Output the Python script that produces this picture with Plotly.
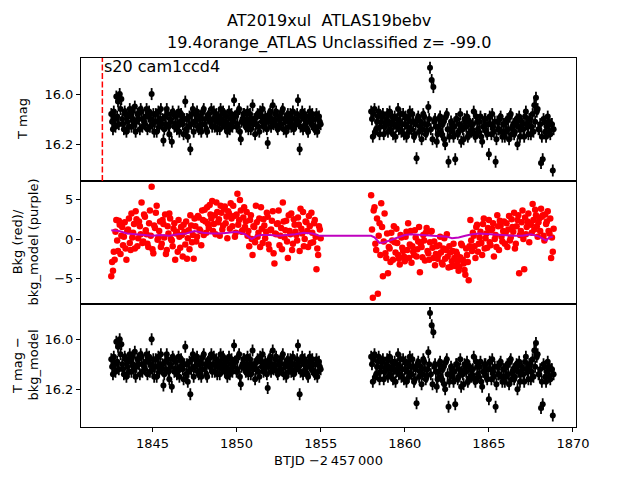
import plotly.graph_objects as go
from plotly.subplots import make_subplots

# ---------------- data ----------------
CADENCE = 0.1
SEG1_START = 1842.55
SEG2_START = 1858.0
HALF_STEP = 0.05

MAG_SEG1 = [
    16.08, 16.14, 16.10, 16.01, 16.03, 16.00, 16.02, 16.12, 16.07, 16.15,
    16.09, 16.06, 16.13, 16.10, 16.05, 16.11, 16.08, 16.14, 16.07, 16.10,
    16.12, 16.06, 16.09, 16.13, 16.00, 16.08, 16.11, 16.15, 16.07, 16.10,
    16.12, 16.185, 16.09, 16.06, 16.13, 16.10, 16.19, 16.08, 16.12, 16.14,
    16.07, 16.11, 16.09, 16.16, 16.03, 16.10, 16.13, 16.22, 16.08, 16.15,
    16.11, 16.07, 16.14, 16.09, 16.12, 16.06, 16.10, 16.15, 16.08, 16.11,
    16.13, 16.07, 16.10, 16.14, 16.09, 16.06, 16.12, 16.08, 16.11, 16.15,
    16.07, 16.10, 16.13, 16.025, 16.09, 16.12, 16.06, 16.18, 16.10, 16.08,
    16.13, 16.07, 16.11, 16.14, 16.045, 16.10, 16.12, 16.08, 16.15, 16.09,
    16.06, 16.12, 16.10, 16.195, 16.08, 16.13, 16.045, 16.11, 16.07, 16.14,
    16.09, 16.12, 16.06, 16.10, 16.15, 16.08, 16.11, 16.13, 16.07, 16.10,
    16.12, 16.025, 16.22, 16.09, 16.14, 16.08, 16.11, 16.15, 16.07, 16.12,
    16.10, 16.14, 16.08, 16.13, 16.11,
]
MAG_SEG1_B = [
    16.11, 16.07, 16.13, 16.09, 16.12, 16.06, 16.10, 16.14, 16.08, 16.11,
    16.13, 16.09, 16.07, 16.12, 16.15, 16.08, 16.10, 16.06, 16.13, 16.11,
    16.09, 16.14, 16.07, 16.10, 16.12, 16.15, 16.08, 16.11, 16.13, 16.06,
    16.10, 16.14, 16.12, 16.08, 16.16, 16.11, 16.07, 16.13, 16.09, 16.12,
    16.15, 16.08, 16.12, 16.10, 16.14, 16.17, 16.09, 16.12, 16.06, 16.11,
    16.08, 16.13, 16.10, 16.15, 16.07, 16.12, 16.14, 16.09, 16.11, 16.06,
    16.10, 16.13, 16.08, 16.11, 16.14, 16.10, 16.07, 16.13, 16.09, 16.12,
    16.14, 16.08, 16.11, 16.09, 16.13, 16.07, 16.15, 16.11, 16.08, 16.12,
    16.10, 16.14, 16.08, 16.10, 16.12, 16.16, 16.09, 16.13, 16.07, 16.11,
    16.13, 16.09, 16.14, 16.11, 16.07, 16.10, 16.12, 16.08, 16.13, 16.10,
    16.12, 16.07, 16.14, 16.11, 16.09, 16.13, 16.08, 16.10, 16.14, 16.12,
    16.08, 16.11, 16.13, 16.07, 16.10, 16.12, 16.14, 16.09, 16.11, 16.08,
    16.13, 16.10, 16.15, 16.09, 16.12,
]

MAG_SEG2 = [
    16.07, 16.17, 16.06, 16.14, 16.09, 16.16, 16.11, 16.08, 16.13, 16.10,
    16.15, 16.07, 16.12, 16.16, 16.09, 16.13, 16.06, 16.11, 16.15, 16.08,
    16.12, 16.17, 16.10, 16.07, 16.14, 16.11, 16.16, 16.256, 16.09, 16.13,
    16.18, 16.08, 16.12, 16.15, 16.052, 15.895, 15.944, 15.972, 16.10, 16.19,
    16.13, 16.09, 16.16, 16.11, 16.20, 16.08, 16.27, 16.14, 16.12, 16.17,
    16.26, 16.10, 16.15, 16.08, 16.13, 16.18, 16.11, 16.09, 16.16, 16.12,
    16.14, 16.07, 16.17, 16.11, 16.15, 16.09, 16.19, 16.13, 16.10, 16.16,
    16.24, 16.12, 16.08, 16.15, 16.27, 16.11, 16.14, 16.09, 16.17, 16.12,
    16.15, 16.10, 16.18, 16.08, 16.13, 16.16, 16.11, 16.20, 16.09, 16.14,
    16.12, 16.17, 16.07, 16.13, 16.10, 16.16, 16.08, 16.045, 16.015, 16.06,
    16.14, 16.275, 16.26, 16.11, 16.17, 16.09, 16.15, 16.12, 16.305,
]
MAG_SEG2_B = [
    16.10, 16.08, 16.15, 16.11, 16.07, 16.13, 16.09, 16.16, 16.12, 16.08,
    16.11, 16.14, 16.09, 16.12, 16.17, 16.10, 16.14, 16.08, 16.12, 16.16,
    16.09, 16.13, 16.15, 16.11, 16.08, 16.17, 16.12, 16.10, 16.15, 16.11,
    16.14, 16.09, 16.16, 16.12, 16.10, 16.14, 16.18, 16.11, 16.13, 16.16,
    16.10, 16.15, 16.12, 16.18, 16.09, 16.14, 16.17, 16.11, 16.15, 16.13,
    16.10, 16.16, 16.12, 16.19, 16.14, 16.10, 16.13, 16.17, 16.11, 16.15,
    16.12, 16.16, 16.09, 16.14, 16.11, 16.17, 16.13, 16.10, 16.15, 16.12,
    16.09, 16.16, 16.13, 16.11, 16.18, 16.14, 16.10, 16.15, 16.12, 16.17,
    16.11, 16.14, 16.09, 16.16, 16.12, 16.15, 16.10, 16.13, 16.17, 16.11,
    16.14, 16.09, 16.12, 16.16, 16.10, 16.13, 16.15, 16.11, 16.07, 16.14,
    16.12, 16.17, 16.10, 16.15, 16.13, 16.11, 16.16, 16.12, 16.14,
]

BKG_SEG1 = [
    -4.7, -4.0, -2.6, 2.4, -1.5, 1.8, 0.4, -0.8, 2.1, -2.6,
    1.2, -0.5, 3.2, 0.8, -1.2, 2.5, 0.1, 1.6, 4.6, -0.3,
    2.8, 0.6, -1.0, 3.6, 6.6, -1.8, 1.4, 4.2, 0.2, 2.2,
    -0.6, 1.9, 3.1, -1.4, 0.7, 2.6, -0.2, 1.3, -2.6, 0.9,
    2.4, -1.1, 0.5, 1.8, -0.7, -2.5, 1.1, 3.0, -0.4, -2.5,
    1.6, 0.3, 2.7, 1.0, 3.6, 0.5, 2.2, 4.0, 1.4, 3.1,
    4.8, 1.9, 0.6, 3.4, 2.5, 4.2, 1.2, 3.8, 2.0, 0.1,
    3.2, 4.5, 1.6, 2.9, 0.8, 5.7, 2.4, 3.6, 1.1, 4.0,
    2.2, 0.4, -0.9, 3.0, -2.0, 1.5, 4.2, 0.3, 2.6, 4.0,
    -0.5, 1.7, 0.9, 2.8, -1.3, 1.2, 3.5, -3.1, 0.6, 2.0,
    -0.8, 1.4, 4.6, 0.2, 2.3, -2.4, 1.0, 3.2, -0.6, 1.8,
    0.5, 2.7, -1.5, 1.3, 3.4, 0.0, 2.1, -1.0, 1.6, 3.3,
    -0.4, 2.4, -3.8, -2.0, 1.2,
]
BKG_SEG1_B = [
    -2.9, -1.6, 0.9, -0.2, 2.3, -1.9, 1.5, 0.3, -1.2, 1.0,
    2.6, -1.4, 0.2, 1.9, 3.5, -0.9, 2.2, 0.6, -0.5, 3.1,
    1.1, -0.6, 2.0, 0.4, -1.3, 1.7, 3.3, -0.1, 1.0, -1.0,
    2.4, 0.2, -1.9, 1.6, 3.2, 0.0, -0.9, 2.0, 0.7, -1.6,
    0.3, 1.5, -2.2, 0.9, 2.2, 0.1, -1.3, 1.7, 0.5, 2.6,
    -0.3, 2.9, 1.2, -0.8, 2.4, 3.7, 0.8, 1.9, 4.3, 2.6,
    1.0, 3.0, 4.6, 2.1, 0.4, 3.3, 1.7, 4.1, 2.8, 3.5,
    1.3, 2.6, 4.2, 0.3, 3.1, 1.8, 4.9, 0.9, 2.7, 1.5,
    3.4, 1.0, 2.4, 0.0, 1.6, -0.4, 2.1, 0.8, -1.0, 1.3,
    2.5, 0.1, 3.3, -0.7, 1.1, 2.3, -1.8, 0.7, 1.9, 3.6,
    0.4, -1.3, 2.2, 1.1, -0.3, 3.0, 0.6, -1.4, 2.5, 0.9,
    -0.2, 1.8, 3.8, 0.7, -0.9, 2.2, 1.0, 2.9, -0.5, 0.8,
    2.0, 0.3, -1.2, 1.6, 0.1,
]

BKG_SEG2 = [
    5.5, -7.4, 4.0, -1.4, -6.9, 2.0, 4.5, -4.7, 3.2, -2.4,
    -4.3, -1.2, 0.8, -2.6, -0.4, 1.3, -2.0, -3.2, 0.2, -1.5,
    -2.8, 0.9, 2.0, -0.7, -3.0, -1.6, 1.1, -2.2, -0.3, -4.2,
    -1.0, 0.5, -2.7, 1.4, -1.8, -0.4, 1.0, -2.4, -3.3, -0.9,
    -2.0, 0.3, -3.0, -1.2, -2.5, 0.6, -3.6, -1.7, -2.8, -0.6,
    -3.4, -1.9, -4.0, -2.3, -0.8, -3.1, -4.5, -2.0, -5.2, 2.4,
    -1.5, 0.4, -2.4, 1.8, -0.6, 0.9, -2.0, 2.6, 0.1, -1.1,
    2.4, -0.8, 1.3, -2.2, 0.5, 3.0, -1.4, 1.7, -0.3, 2.2,
    0.8, -1.0, 2.9, 0.2, 1.5, 3.3, -0.6, 2.4, -4.3, 1.0,
    3.6, -3.8, 0.6, 2.2, -0.4, 1.8, 4.4, 1.2, 3.0, 0.3,
    2.6, 3.8, 3.0, -0.2, 1.9, 3.5, 0.7, -2.4, -1.6,
]
BKG_SEG2_B = [
    1.2, 3.6, -0.6, 2.6, 0.4, -2.0, 1.5, -0.3, -1.8, 0.7,
    -1.0, -2.9, -0.2, 1.6, -1.7, -0.5, -2.5, 0.5, -1.1, -2.2,
    0.3, -1.4, -2.4, 1.0, -0.9, -2.0, 0.2, -1.3, 1.5, -0.6,
    -2.3, -0.2, 0.8, -1.5, -2.6, 0.9, -1.1, -0.3, -1.9, -2.5,
    -0.8, -1.7, -3.2, 0.1, -1.4, -2.2, -0.9, -3.5, -1.5, -2.4,
    -1.6, -2.8, -3.5, -0.6, -2.6, -3.9, -1.2, -2.9, -0.9, -0.2,
    0.8, -0.9, 1.5, -1.6, 0.2, -0.5, 1.9, -1.2, 0.7, 1.4,
    -0.4, 1.1, 2.0, 0.0, -1.0, 1.6, 2.3, 0.3, 1.0, -0.6,
    2.0, 1.2, -0.2, 2.5, 0.9, -1.2, 1.6, 3.0, 0.5, 2.1,
    0.0, 2.7, 1.5, 3.2, 2.0, 0.8, 2.4, 3.7, 1.6, 2.1,
    1.0, 2.8, 0.4, 3.1, 2.2, 1.0, 2.6, 0.2, 1.3,
]

MODEL_T = [
    1842.55, 1843.0, 1843.5, 1844.0, 1844.5, 1845.0, 1845.5, 1846.0, 1846.5,
    1847.0, 1847.5, 1848.0, 1848.5, 1849.0, 1849.5, 1850.0, 1850.5, 1850.9,
    1851.2, 1851.5, 1852.0, 1852.5, 1853.0, 1853.5, 1854.0, 1854.5, 1854.95,
    1858.0, 1858.2, 1858.5, 1858.8, 1859.2, 1859.6, 1860.0, 1860.4, 1861.0,
    1861.5, 1862.0, 1862.5, 1862.8, 1863.2, 1863.6, 1864.0, 1864.4, 1865.0,
    1865.5, 1866.0, 1866.5, 1867.0, 1867.5, 1868.0, 1868.4, 1868.6, 1868.8,
]
MODEL_V = [
    1.1, 1.0, 0.7, 0.6, 0.5, 0.4, 0.5, 0.4, 0.6,
    0.7, 1.0, 0.8, 0.7, 0.7, 0.8, 0.9, 0.6, 0.0,
    0.4, 0.5, 0.5, 0.4, 0.5, 0.6, 0.8, 0.7, 0.4,
    0.4, 0.2, -0.5, -0.4, -0.1, 0.3, 0.5, 0.6, 0.5,
    0.4, 0.3, 0.3, 0.1, 0.2, 0.4, 0.6, 0.7, 0.6,
    0.6, 0.5, 0.4, 0.4, 0.6, 0.3, -0.2, 0.2, 0.3,
]

SECTOR_LINE_T = 1842.02
MAG_ERR = 0.024
TITLE_LINE1 = "AT2019xul  ATLAS19bebv"
TITLE_LINE2 = "19.4orange_ATLAS Unclassified z= -99.0"
LABEL = "s20 cam1ccd4"
YTITLES = ["T mag", "Bkg (red)/<br>bkg_model (purple)", "T mag \u2212<br>bkg_model"]


def times(start, n):
    return [round(start + CADENCE * i, 3) for i in range(n)]


T_ALL = (times(SEG1_START, len(MAG_SEG1)) + times(SEG1_START + HALF_STEP, len(MAG_SEG1_B))
         + times(SEG2_START, len(MAG_SEG2)) + times(SEG2_START + HALF_STEP, len(MAG_SEG2_B)))
MAG_ALL = MAG_SEG1 + MAG_SEG1_B + MAG_SEG2 + MAG_SEG2_B
TB_ALL = (times(SEG1_START, len(BKG_SEG1)) + times(SEG1_START + HALF_STEP, len(BKG_SEG1_B))
          + times(SEG2_START, len(BKG_SEG2)) + times(SEG2_START + HALF_STEP, len(BKG_SEG2_B)))
BKG_ALL = BKG_SEG1 + BKG_SEG1_B + BKG_SEG2 + BKG_SEG2_B

FONT = "DejaVu Sans"

fig = make_subplots(rows=3, cols=1, shared_xaxes=True, vertical_spacing=0)

err = dict(type="constant", value=MAG_ERR, color="black", thickness=1.8, width=0)

fig.add_trace(go.Scatter(x=T_ALL, y=MAG_ALL, mode="markers",
                         marker=dict(color="black", size=6),
                         error_y=err, showlegend=False), row=1, col=1)
fig.add_trace(go.Scatter(x=TB_ALL, y=BKG_ALL, mode="markers",
                         marker=dict(color="#ff0000", size=6.5),
                         showlegend=False), row=2, col=1)
fig.add_trace(go.Scatter(x=MODEL_T, y=MODEL_V, mode="lines",
                         line=dict(color="#bf00bf", width=2),
                         showlegend=False), row=2, col=1)
fig.add_trace(go.Scatter(x=T_ALL, y=MAG_ALL, mode="markers",
                         marker=dict(color="black", size=6),
                         error_y=err, showlegend=False), row=3, col=1)

# sector start line (top panel)
fig.add_shape(type="line", x0=SECTOR_LINE_T, x1=SECTOR_LINE_T, y0=0, y1=1,
              xref="x", yref="y domain",
              line=dict(color="#ff0000", width=1.5, dash="6px,2.5px"))

fig.add_annotation(x=SECTOR_LINE_T, y=1, xref="x", yref="y domain",
                   text=LABEL, showarrow=False, xanchor="left", yanchor="top",
                   xshift=0, yshift=3,
                   font=dict(family=FONT, size=16, color="black"))

# title (two centred lines above the plot area)
for txt, shift in ((TITLE_LINE1, 38), (TITLE_LINE2, 15)):
    fig.add_annotation(x=0.5, y=1, xref="paper", yref="paper", text=txt,
                       showarrow=False, xanchor="center", yanchor="middle",
                       yshift=shift, font=dict(family=FONT, size=16, color="black"))

# y-axis titles, rotated, right edge a fixed distance left of each panel
for yref, txt, gap in (("y domain", YTITLES[0], 49),
                       ("y2 domain", YTITLES[1], 38),
                       ("y3 domain", YTITLES[2], 38)):
    fig.add_annotation(x=0, y=0.5, xref="paper", yref=yref, text=txt,
                       textangle=-90, showarrow=False, xanchor="right",
                       yanchor="middle", xshift=-gap,
                       font=dict(family=FONT, size=13, color="black"))

axis_common = dict(showline=True, linecolor="black", linewidth=1, mirror=True,
                   showgrid=False, zeroline=False, automargin=False,
                   ticks="outside", ticklen=4, tickwidth=1, tickcolor="black",
                   tickfont=dict(family=FONT, size=13, color="black"))

XR = [1840.75, 1870.18]
fig.update_xaxes(range=XR, **axis_common)
fig.update_xaxes(showticklabels=False, ticks="", row=1, col=1)
fig.update_xaxes(showticklabels=False, ticks="", row=2, col=1)
fig.update_xaxes(tickvals=[1845, 1850, 1855, 1860, 1865, 1870],
                 ticktext=["1845", "1850", "1855", "1860", "1865", "1870"],
                 title=dict(text="BTJD \u22122\u2009457\u2009000", standoff=6,
                            font=dict(family=FONT, size=13, color="black")),
                 row=3, col=1)

fig.update_yaxes(**axis_common)
fig.update_yaxes(range=[16.347, 15.856], tickvals=[16.0, 16.2],
                 ticktext=["16.0", "16.2"], row=1, col=1)
fig.update_yaxes(range=[-8.19, 7.31], tickvals=[5, 0, -5],
                 ticktext=["5", "0", "\u22125"], row=2, col=1)
fig.update_yaxes(range=[16.351, 15.859], tickvals=[16.0, 16.2],
                 ticktext=["16.0", "16.2"], row=3, col=1)

# the page places the figure 8 px in from the top-left corner
fig.update_layout(
    width=632, height=472,
    margin=dict(l=73, r=64, t=50, b=53),
    paper_bgcolor="white", plot_bgcolor="white",
    font=dict(family=FONT, size=13, color="black"),
)

fig.write_html("out.html")
